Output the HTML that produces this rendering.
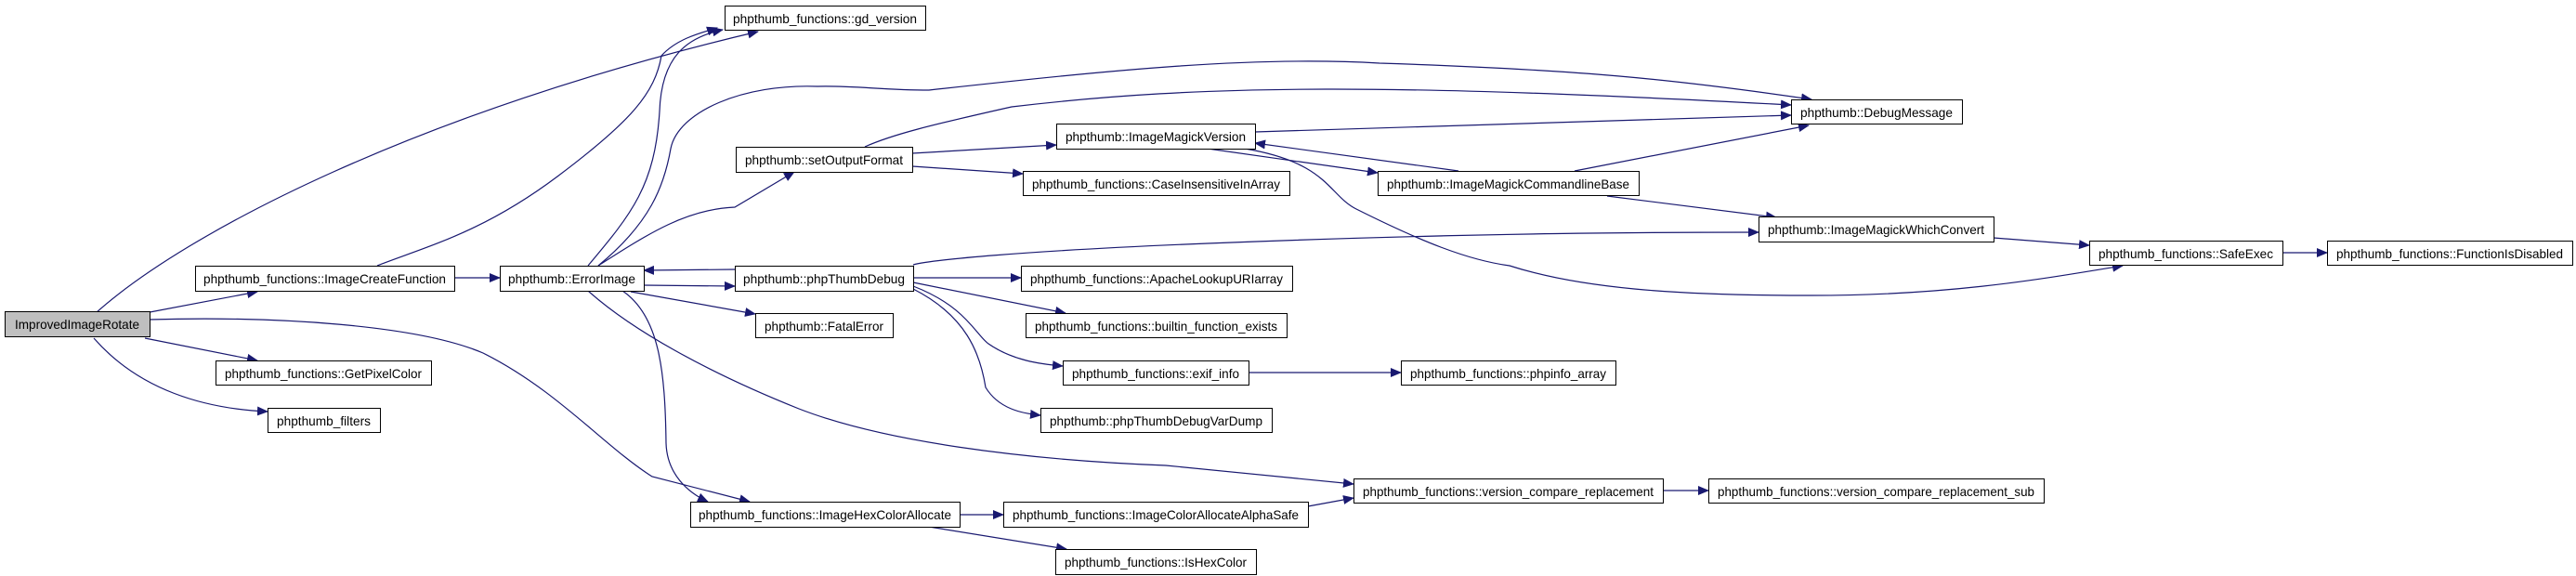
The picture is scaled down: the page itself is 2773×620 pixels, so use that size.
<!DOCTYPE html>
<html><head><meta charset="utf-8"><style>
html,body{margin:0;padding:0;background:#fff;}
svg{display:block;}
text{font-family:"Liberation Sans",sans-serif;font-size:14px;fill:#000;}
.e{fill:none;stroke:#191970;stroke-width:1.2;}
</style></head><body>
<svg width="2773" height="620" viewBox="0 0 2773 620" xmlns="http://www.w3.org/2000/svg">
<defs>
<marker id="a" markerUnits="userSpaceOnUse" markerWidth="12" markerHeight="10" refX="11" refY="5" orient="auto">
<path d="M0,0 L12,5 L0,10 z" fill="#191970"/>
</marker>
</defs>
<g marker-end="url(#a)">
<path class="e" d="M103,337 C200,250 450,120 816,34"/>
<path class="e" d="M156,337 L277,314"/>
<path class="e" d="M156,364 L277,388"/>
<path class="e" d="M101,364 C150,420 220,440 288,443"/>
<path class="e" d="M160,344 C300,340 450,350 520,380 C600,420 650,480 702,513 L807,540"/>
<path class="e" d="M489,299 L538,299"/>
<path class="e" d="M406,286 C460,265 520,250 600,190 C680,130 705,100 712,60 C730,40 760,34 772,30"/>
<path class="e" d="M633,286 C680,230 705,200 710,120 C712,60 740,40 778,32"/>
<path class="e" d="M644,286 C700,240 715,200 722,160 C730,120 800,90 880,93 C920,92 950,97 1000,97 C1200,75 1350,60 1485,68 C1700,75 1800,85 1950,107"/>
<path class="e" d="M644,286 C700,250 740,225 791,223 L855,185"/>
<path class="e" d="M693,307 L791,308"/>
<path class="e" d="M791,290 L693,291"/>
<path class="e" d="M679,314 L813,338"/>
<path class="e" d="M633,313 C680,355 760,400 860,440 C950,475 1100,495 1255,501 L1457,521"/>
<path class="e" d="M670,313 C710,340 716,400 717,477 C718,510 740,530 762,540"/>
<path class="e" d="M931,158 C960,145 1000,135 1089,115 C1300,90 1500,90 1928,113"/>
<path class="e" d="M982,165 L1137,156"/>
<path class="e" d="M982,179 L1101,187"/>
<path class="e" d="M1351,142 L1928,124"/>
<path class="e" d="M1300,160 L1483,186"/>
<path class="e" d="M1570,184 L1351,154"/>
<path class="e" d="M1695,184 L1947,135"/>
<path class="e" d="M1730,211 L1912,234"/>
<path class="e" d="M983,285 C1000,280 1100,270 1300,262 C1600,250 1800,250 1893,250"/>
<path class="e" d="M983,299 L1099,299"/>
<path class="e" d="M983,304 L1147,337"/>
<path class="e" d="M983,308 C1040,330 1050,360 1064,370 C1090,388 1120,392 1144,394"/>
<path class="e" d="M983,311 C1040,340 1055,380 1061,417 C1075,440 1100,445 1120,447"/>
<path class="e" d="M1344,401 L1508,401"/>
<path class="e" d="M1340,160 C1430,175 1430,210 1460,225 C1530,260 1580,280 1625,286 C1700,310 1800,318 1950,318 C2100,318 2200,300 2285,286"/>
<path class="e" d="M2146,256 L2249,264"/>
<path class="e" d="M2457,272 L2505,272"/>
<path class="e" d="M1033,554 L1080,554"/>
<path class="e" d="M1000,567 L1148,591"/>
<path class="e" d="M1408,545 L1457,536"/>
<path class="e" d="M1790,528 L1839,528"/>
</g>
<g stroke="#000" stroke-width="1">
<rect x="5.5" y="335.5" width="156" height="27" fill="#bfbfbf"/>
<rect x="210.5" y="286.5" width="279" height="27" fill="#fff"/>
<rect x="538.5" y="286.5" width="155" height="27" fill="#fff"/>
<rect x="780.5" y="6.5" width="216" height="26" fill="#fff"/>
<rect x="792.5" y="158.5" width="190" height="27" fill="#fff"/>
<rect x="791.5" y="286.5" width="192" height="27" fill="#fff"/>
<rect x="813.5" y="337.5" width="148" height="26" fill="#fff"/>
<rect x="232.5" y="388.5" width="232" height="26" fill="#fff"/>
<rect x="288.5" y="439.5" width="121" height="26" fill="#fff"/>
<rect x="743.5" y="540.5" width="290" height="27" fill="#fff"/>
<rect x="1928.5" y="107.5" width="184" height="26" fill="#fff"/>
<rect x="1137.5" y="133.5" width="214" height="27" fill="#fff"/>
<rect x="1101.5" y="184.5" width="287" height="26" fill="#fff"/>
<rect x="1483.5" y="184.5" width="281" height="26" fill="#fff"/>
<rect x="1893.5" y="233.5" width="253" height="27" fill="#fff"/>
<rect x="1099.5" y="286.5" width="292" height="27" fill="#fff"/>
<rect x="1104.5" y="337.5" width="281" height="26" fill="#fff"/>
<rect x="1144.5" y="388.5" width="200" height="26" fill="#fff"/>
<rect x="1508.5" y="388.5" width="231" height="26" fill="#fff"/>
<rect x="1120.5" y="439.5" width="249" height="26" fill="#fff"/>
<rect x="1457.5" y="515.5" width="333" height="26" fill="#fff"/>
<rect x="1839.5" y="515.5" width="361" height="26" fill="#fff"/>
<rect x="1080.5" y="540.5" width="328" height="27" fill="#fff"/>
<rect x="1136.5" y="591.5" width="216" height="27" fill="#fff"/>
<rect x="2249.5" y="259.5" width="208" height="26" fill="#fff"/>
<rect x="2505.5" y="259.5" width="264" height="26" fill="#fff"/>
</g>
<g lengthAdjust="spacingAndGlyphs">
<text x="16" y="354" textLength="134" lengthAdjust="spacingAndGlyphs">ImprovedImageRotate</text>
<text x="219" y="305" textLength="261" lengthAdjust="spacingAndGlyphs">phpthumb_functions::ImageCreateFunction</text>
<text x="547" y="305" textLength="137" lengthAdjust="spacingAndGlyphs">phpthumb::ErrorImage</text>
<text x="789" y="25" textLength="198" lengthAdjust="spacingAndGlyphs">phpthumb_functions::gd_version</text>
<text x="802" y="177" textLength="170" lengthAdjust="spacingAndGlyphs">phpthumb::setOutputFormat</text>
<text x="800" y="305" textLength="174" lengthAdjust="spacingAndGlyphs">phpthumb::phpThumbDebug</text>
<text x="823" y="356" textLength="128" lengthAdjust="spacingAndGlyphs">phpthumb::FatalError</text>
<text x="242" y="407" textLength="212" lengthAdjust="spacingAndGlyphs">phpthumb_functions::GetPixelColor</text>
<text x="298" y="458" textLength="101" lengthAdjust="spacingAndGlyphs">phpthumb_filters</text>
<text x="752" y="559" textLength="272" lengthAdjust="spacingAndGlyphs">phpthumb_functions::ImageHexColorAllocate</text>
<text x="1938" y="126" textLength="164" lengthAdjust="spacingAndGlyphs">phpthumb::DebugMessage</text>
<text x="1147" y="152" textLength="194" lengthAdjust="spacingAndGlyphs">phpthumb::ImageMagickVersion</text>
<text x="1111" y="203" textLength="267" lengthAdjust="spacingAndGlyphs">phpthumb_functions::CaseInsensitiveInArray</text>
<text x="1493" y="203" textLength="261" lengthAdjust="spacingAndGlyphs">phpthumb::ImageMagickCommandlineBase</text>
<text x="1903" y="252" textLength="233" lengthAdjust="spacingAndGlyphs">phpthumb::ImageMagickWhichConvert</text>
<text x="1109" y="305" textLength="272" lengthAdjust="spacingAndGlyphs">phpthumb_functions::ApacheLookupURIarray</text>
<text x="1114" y="356" textLength="261" lengthAdjust="spacingAndGlyphs">phpthumb_functions::builtin_function_exists</text>
<text x="1154" y="407" textLength="180" lengthAdjust="spacingAndGlyphs">phpthumb_functions::exif_info</text>
<text x="1518" y="407" textLength="211" lengthAdjust="spacingAndGlyphs">phpthumb_functions::phpinfo_array</text>
<text x="1130" y="458" textLength="229" lengthAdjust="spacingAndGlyphs">phpthumb::phpThumbDebugVarDump</text>
<text x="1467" y="534" textLength="313" lengthAdjust="spacingAndGlyphs">phpthumb_functions::version_compare_replacement</text>
<text x="1849" y="534" textLength="341" lengthAdjust="spacingAndGlyphs">phpthumb_functions::version_compare_replacement_sub</text>
<text x="1090" y="559" textLength="308" lengthAdjust="spacingAndGlyphs">phpthumb_functions::ImageColorAllocateAlphaSafe</text>
<text x="1146" y="610" textLength="196" lengthAdjust="spacingAndGlyphs">phpthumb_functions::IsHexColor</text>
<text x="2259" y="278" textLength="188" lengthAdjust="spacingAndGlyphs">phpthumb_functions::SafeExec</text>
<text x="2515" y="278" textLength="244" lengthAdjust="spacingAndGlyphs">phpthumb_functions::FunctionIsDisabled</text>
</g>
</svg>
</body></html>
